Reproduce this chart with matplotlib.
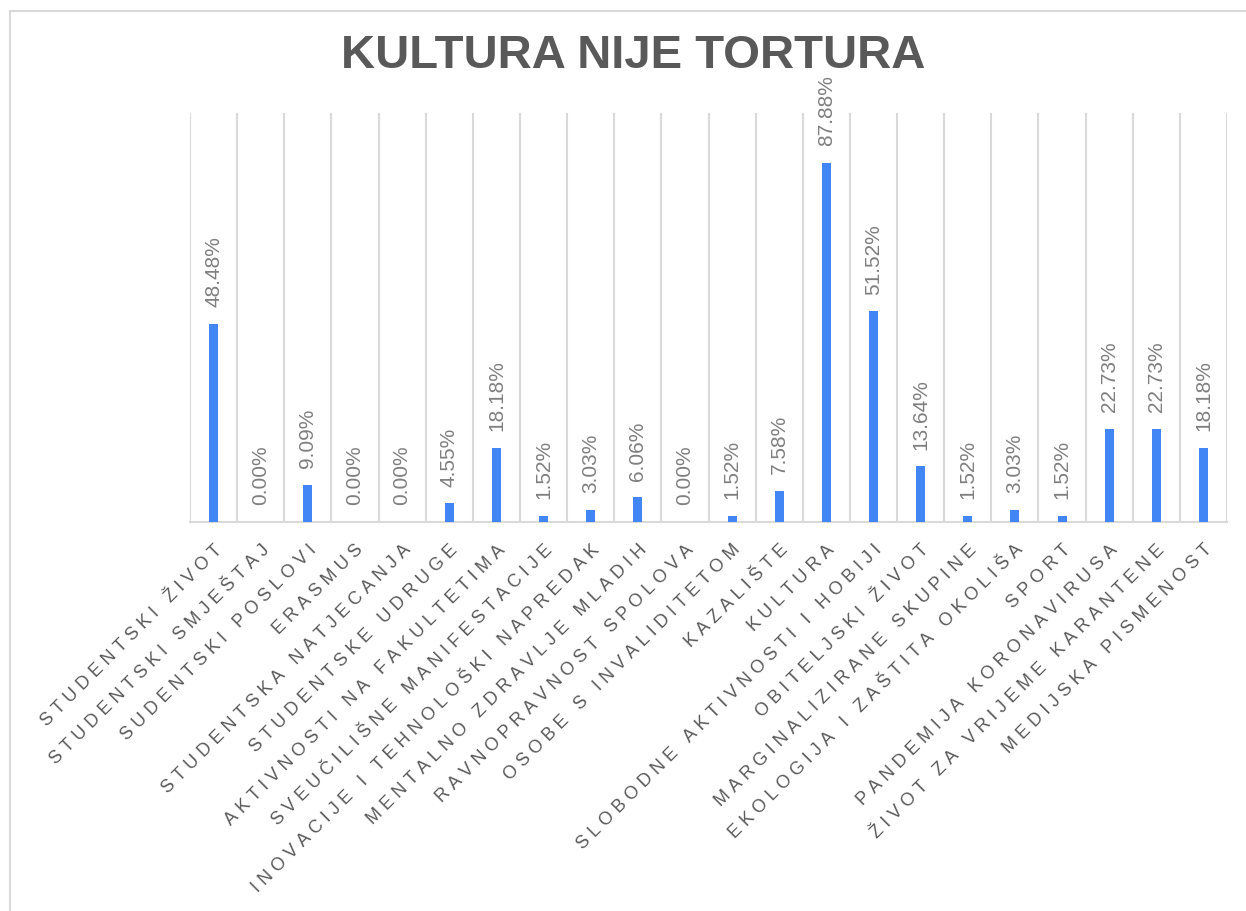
import matplotlib
matplotlib.use("Agg")
import matplotlib.pyplot as plt
import numpy as np
from matplotlib.patches import Rectangle

plt.rcParams['font.family'] = ['Liberation Sans', 'DejaVu Sans']

kategorije = ["STUDENTSKI ŽIVOT", "STUDENTSKI SMJEŠTAJ", "SUDENTSKI POSLOVI", "ERASMUS",
              "STUDENTSKA NATJECANJA", "STUDENTSKE UDRUGE", "AKTIVNOSTI NA FAKULTETIMA",
              "SVEUČILIŠNE MANIFESTACIJE", "INOVACIJE I TEHNOLOŠKI NAPREDAK",
              "MENTALNO ZDRAVLJE MLADIH", "RAVNOPRAVNOST SPOLOVA", "OSOBE S INVALIDITETOM",
              "KAZALIŠTE", "KULTURA", "SLOBODNE AKTIVNOSTI I HOBIJI", "OBITELJSKI ŽIVOT",
              "MARGINALIZIRANE SKUPINE", "EKOLOGIJA I ZAŠTITA OKOLIŠA", "SPORT",
              "PANDEMIJA KORONAVIRUSA", "ŽIVOT ZA VRIJEME KARANTENE", "MEDIJSKA PISMENOST"]
postotci = [48.48, 0.00, 9.09, 0.00, 0.00, 4.55, 18.18, 1.52, 3.03, 6.06, 0.00,
            1.52, 7.58, 87.88, 51.52, 13.64, 1.52, 3.03, 1.52, 22.73, 22.73, 18.18]
naslov = "KULTURA NIJE TORTURA"


# excel ima razmak izmedju slova, ovdje ga glumimo uskim razmacima
def razmak(s, sep='\u2009\u200a'):
    return sep.join(s)


fig = plt.figure(figsize=(12.46, 9.11), dpi=100)
fig.patches.append(Rectangle((10 / 1246, -0.1), 1.2, (911 - 11) / 911 + 0.1,
                             transform=fig.transFigure, fill=False,
                             edgecolor='#d9d9d9', linewidth=1.5))
ax = fig.add_axes([190 / 1246, 1 - 522 / 911, (1227 - 190) / 1246, (522 - 113) / 911])

x = np.arange(len(kategorije))
ax.bar(x, postotci, width=0.19, color='#4285F4', zorder=3)
ax.set_xlim(-0.5, len(kategorije) - 0.5)
ax.set_ylim(0, 100)

for g in np.arange(-0.5, len(kategorije), 1.0):
    ax.axvline(g, color='#d9d9d9', linewidth=1.5, zorder=1)

for i, v in enumerate(postotci):
    ax.annotate(f"{v:.2f}%", (i, v), xytext=(0, 12), textcoords='offset points',
                rotation=90, ha='center', va='bottom', fontsize=15, color='#7f7f7f')

for s in ['top', 'left', 'right']:
    ax.spines[s].set_visible(False)
ax.spines['bottom'].set_color('#d9d9d9')
ax.spines['bottom'].set_linewidth(1.5)
ax.set_yticks([])
ax.set_xticks(x)
ax.set_xticklabels([razmak(k) for k in kategorije], rotation=45, ha='right',
                   rotation_mode='anchor', fontsize=13, color='#595959')
ax.tick_params(axis='x', length=0, pad=14)

fig.text(633 / 1246, 1 - 56 / 911, naslov, ha='center', va='center',
         fontsize=34, fontweight='bold', color='#595959')

fig.savefig('out.png', dpi=100)
